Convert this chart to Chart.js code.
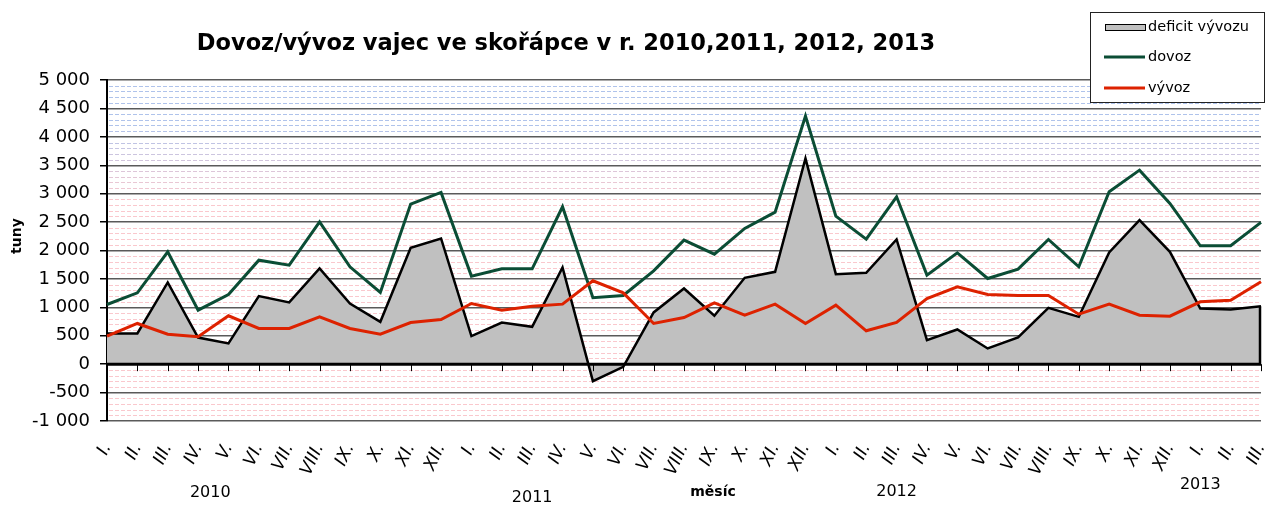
<!DOCTYPE html>
<html>
<head>
<meta charset="utf-8">
<script src="https://cdn.jsdelivr.net/npm/chart.js@4"></script>
<style>
  body { margin: 0; background: #fff; }
  canvas { display: block; }
</style>
</head>
<body>
<canvas id="eggChart" width="1266" height="505"></canvas>
<script>
// data (tuny)
const months = ['I.', 'II.', 'III.', 'IV.', 'V.', 'VI.', 'VII.', 'VIII.', 'IX.', 'X.', 'XI.', 'XII.'];
const categories = months.concat(months, months, months.slice(0, 3));
const years = ['2010', '2011', '2012', '2013'];

const dovoz = [
    1050, 1255, 1977, 950, 1226, 1830, 1742, 2505, 1713, 1261, 2816, 3021,
    1549, 1678, 1678, 2769, 1168, 1209, 1643, 2182, 1936, 2388, 2675, 4365,
    2605, 2200, 2945, 1566, 1959, 1508, 1672, 2194, 1713, 3033, 3414, 2828,
    2083, 2083, 2494
];
const vyvoz = [
    493, 716, 528, 481, 851, 628, 628, 833, 628, 528, 733, 786,
    1067, 950, 1021, 1056, 1467, 1255, 716, 821, 1079, 862, 1056, 716,
    1038, 587, 733, 1155, 1361, 1226, 1209, 1209, 880, 1056, 862, 845,
    1097, 1126, 1449
];
const deficit = [
    540, 540, 1438, 469, 364, 1197, 1086, 1684, 1067, 745, 2047, 2212,
    493, 733, 657, 1702, -299, -46, 910, 1332, 851, 1519, 1625, 3620,
    1584, 1607, 2194, 422, 610, 276, 469, 991, 833, 1966, 2534, 1977,
    980, 963, 1021
];
const yTicks = [-1000, 5000, 500];

function fmt(v) {
    const s = Math.abs(v).toString();
    const t = s.length > 3 ? s.slice(0, s.length - 3) + ' ' + s.slice(-3) : s;
    return (v < 0 ? '-' : '') + t;
}

// dashed background lines + extra texts + legend
const decor = {
    id: 'decor',
    beforeDatasetsDraw(chart) {
        const { ctx, chartArea: a, scales: { y } } = chart;
        ctx.save();
        ctx.lineWidth = 1;
        ctx.setLineDash([4, 2]);
        for (let v = yTicks[0]; v < yTicks[1]; v += 100) {
            if (v % 500 === 0) continue;
            let t = (v - 2900) / 1300;
            t = Math.max(0, Math.min(1, t));
            const r = Math.round(250 - t * 75), g = Math.round(200 - t * 5), b = Math.round(205 + t * 30);
            ctx.strokeStyle = 'rgb(' + r + ',' + g + ',' + b + ')';
            const py = Math.round(y.getPixelForValue(v)) + 0.5;
            ctx.beginPath();
            ctx.moveTo(a.left + 2, py);
            ctx.lineTo(a.right, py);
            ctx.stroke();
        }
        ctx.restore();
    },
    afterDatasetsDraw(chart) {
        const { ctx, scales: { x, y } } = chart;
        const y0 = y.getPixelForValue(0);
        ctx.save();
        // right edge of the area series
        const last = categories.length - 1;
        ctx.strokeStyle = '#000';
        ctx.lineWidth = 2.5;
        ctx.beginPath();
        ctx.moveTo(x.getPixelForValue(last) - 1, y.getPixelForValue(deficit[last]));
        ctx.lineTo(x.getPixelForValue(last) - 1, y0);
        ctx.stroke();
        // zero line and its tick marks
        ctx.lineWidth = 3;
        ctx.beginPath();
        ctx.moveTo(x.left, y0);
        ctx.lineTo(x.right, y0);
        ctx.stroke();
        ctx.lineWidth = 1;
        for (let i = 1; i < categories.length; i++) {
            const px = Math.round(x.getPixelForValue(i)) + 0.5;
            ctx.beginPath();
            ctx.moveTo(px, y0);
            ctx.lineTo(px, y0 + 7);
            ctx.stroke();
        }
        ctx.restore();
    },
    afterDraw(chart) {
        const { ctx, scales: { x } } = chart;
        ctx.save();
        ctx.fillStyle = '#000';
        ctx.textAlign = 'center';
        ctx.textBaseline = 'middle';
        ctx.font = 'bold 22.5px "DejaVu Sans"';
        ctx.fillText('Dovoz/vývoz vajec ve skořápce v r. 2010,2011, 2012, 2013', 566, 44);

        ctx.font = '16px "DejaVu Sans"';
        const yearPos = [[3.4, 493], [14.0, 498], [26.0, 492], [36.0, 485]];
        years.forEach((yr, i) => ctx.fillText(yr, x.getPixelForValue(yearPos[i][0]), yearPos[i][1]));
        ctx.font = 'bold 14px "DejaVu Sans"';
        ctx.fillText('měsíc', 713, 492);

        ctx.translate(17, 236);
        ctx.rotate(-Math.PI / 2);
        ctx.fillText('tuny', 0, 0);
        ctx.restore();

        // legend box
        ctx.save();
        ctx.fillStyle = '#fff';
        ctx.fillRect(1090, 12, 175, 91);
        ctx.strokeStyle = '#222';
        ctx.lineWidth = 1;
        ctx.strokeRect(1090.5, 12.5, 174, 90);
        ctx.fillStyle = '#c0c0c0';
        ctx.fillRect(1105, 24, 40, 6);
        ctx.strokeStyle = '#000';
        ctx.strokeRect(1105.5, 24.5, 40, 6);
        ctx.lineWidth = 3;
        ctx.strokeStyle = '#0b4d35';
        ctx.beginPath(); ctx.moveTo(1104, 57); ctx.lineTo(1145, 57); ctx.stroke();
        ctx.strokeStyle = '#dd2200';
        ctx.beginPath(); ctx.moveTo(1104, 88); ctx.lineTo(1145, 88); ctx.stroke();
        ctx.fillStyle = '#000';
        ctx.font = '14.5px "DejaVu Sans"';
        ctx.textAlign = 'left';
        ctx.textBaseline = 'middle';
        ctx.fillText('deficit vývozu', 1148, 27);
        ctx.fillText('dovoz', 1148, 57);
        ctx.fillText('vývoz', 1148, 88);
        ctx.restore();
    }
};

const ctx = document.getElementById('eggChart').getContext('2d');
new Chart(ctx, {
    type: 'line',
    data: {
        labels: categories,
        datasets: [
            {
                label: 'deficit vývozu',
                data: deficit,
                borderColor: '#000',
                backgroundColor: '#c0c0c0',
                borderWidth: 2.5,
                fill: 'origin',
                pointRadius: 0,
                tension: 0,
                order: 3
            },
            {
                label: 'dovoz',
                data: dovoz,
                borderColor: '#0b4d35',
                borderWidth: 3,
                fill: false,
                pointRadius: 0,
                tension: 0,
                order: 2
            },
            {
                label: 'vývoz',
                data: vyvoz,
                borderColor: '#dd2200',
                borderWidth: 3,
                fill: false,
                pointRadius: 0,
                tension: 0,
                order: 1
            }
        ]
    },
    options: {
        responsive: false,
        animation: false,
        layout: { padding: { top: 80, right: 5, left: 0, bottom: 0 } },
        plugins: {
            legend: { display: false },
            tooltip: { enabled: false }
        },
        scales: {
            x: {
                offset: false,
                grid: { display: false },
                border: { display: false },
                ticks: {
                    color: '#000',
                    font: { family: 'DejaVu Sans', size: 17.5, style: 'italic' },
                    minRotation: 65,
                    maxRotation: 65,
                    autoSkip: false,
                    padding: 11,
                    labelOffset: 0
                },
                afterFit(scale) {
                    scale.height = 84;
                    scale.paddingLeft = 0;
                    scale.paddingRight = 0;
                }
            },
            y: {
                min: yTicks[0],
                max: yTicks[1],
                border: { display: true, color: '#000', width: 2 },
                grid: {
                    color: '#5a5a5a',
                    lineWidth: 1.5,
                    tickLength: 7,
                    tickColor: '#000'
                },
                ticks: {
                    stepSize: yTicks[2],
                    color: '#000',
                    padding: 10,
                    font: { family: 'DejaVu Sans', size: 18 },
                    callback: (v) => fmt(v)
                },
                afterFit(scale) { scale.width = 107; }
            }
        }
    },
    plugins: [decor]
});
</script>
</body>
</html>
